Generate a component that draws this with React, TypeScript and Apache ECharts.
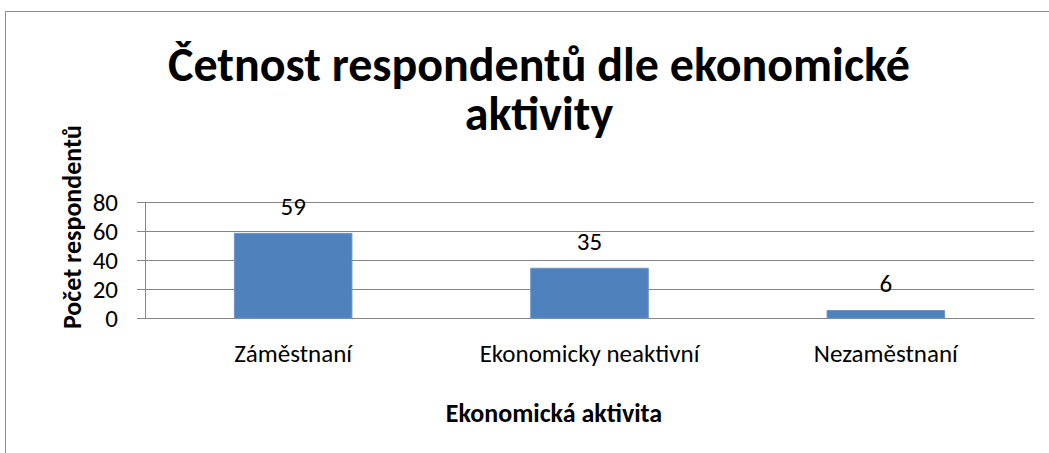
import React, { useEffect, useRef } from "react";
import * as echarts from "echarts";

const titleLines = ["Četnost respondentů dle ekonomické", "aktivity"];
const categories = ["Záměstnaní", "Ekonomicky neaktivní", "Nezaměstnaní"];
const counts = [59, 35, 6];
const yAxisTitle = "Počet respondentů";
const xAxisTitle = "Ekonomická aktivita";
const yMin = 0;
const yMax = 80;
const yInterval = 20;

const FONT = "Carlito, Lato, sans-serif";

export default function App() {
  const ref = useRef<HTMLDivElement>(null);
  useEffect(() => {
    document.body.style.margin = "0";
    const chart = echarts.init(ref.current!, null, { renderer: "svg" });
    const titleStyle = {
      fontFamily: FONT,
      fontSize: 48,
      fontWeight: "bold",
      color: "#000",
      lineHeight: 48,
    };
    chart.setOption({
      animation: false,
      backgroundColor: "#ffffff",
      textStyle: { fontFamily: FONT },
      title: [
        { text: titleLines[0], left: 534, top: 35, textAlign: "center", textStyle: titleStyle },
        { text: titleLines[1], left: 534, top: 84, textAlign: "center", textStyle: titleStyle },
      ],
      graphic: [
        {
          type: "rect",
          shape: { x: 5.5, y: 11.5, width: 1200, height: 600 },
          style: { fill: "none", stroke: "#8c8c8c", lineWidth: 1 },
          silent: true,
        },
        {
          type: "text",
          x: 72,
          y: 227,
          rotation: Math.PI / 2,
          style: {
            text: yAxisTitle,
            fontFamily: FONT,
            fontSize: 26,
            fontWeight: "bold",
            fill: "#000",
            align: "center",
            verticalAlign: "middle",
          },
        },
        {
          type: "text",
          x: 554,
          y: 413,
          style: {
            text: xAxisTitle,
            fontFamily: FONT,
            fontSize: 26,
            fontWeight: "bold",
            fill: "#000",
            align: "center",
            verticalAlign: "middle",
          },
        },
      ],
      grid: { left: 145, right: 15, top: 202.3, bottom: 134.3 },
      xAxis: {
        type: "category",
        data: categories,
        axisLine: { show: true, lineStyle: { color: "#868686", width: 1 } },
        axisTick: { show: false },
        axisLabel: { color: "#000", fontSize: 25, fontFamily: FONT, margin: 22, interval: 0 },
        splitLine: { show: false },
      },
      yAxis: {
        type: "value",
        min: yMin,
        max: yMax,
        interval: yInterval,
        axisLine: { show: true, lineStyle: { color: "#868686", width: 1 } },
        axisTick: { show: true, length: 8, inside: false, lineStyle: { color: "#868686" } },
        axisLabel: { color: "#000", fontSize: 25, fontFamily: FONT, margin: 27 },
        splitLine: { show: true, lineStyle: { color: "#868686", width: 1 } },
      },
      series: [
        {
          type: "bar",
          data: counts,
          barCategoryGap: "60%",
          itemStyle: { color: "#4F81BD", borderColor: "#6a95c9", borderWidth: 1 },
          label: {
            show: true,
            position: "top",
            distance: 14,
            color: "#000",
            fontSize: 25,
            fontFamily: FONT,
          },
        },
      ],
    });
    return () => chart.dispose();
  }, []);
  return <div ref={ref} style={{ width: 1049, height: 453 }} />;
}
